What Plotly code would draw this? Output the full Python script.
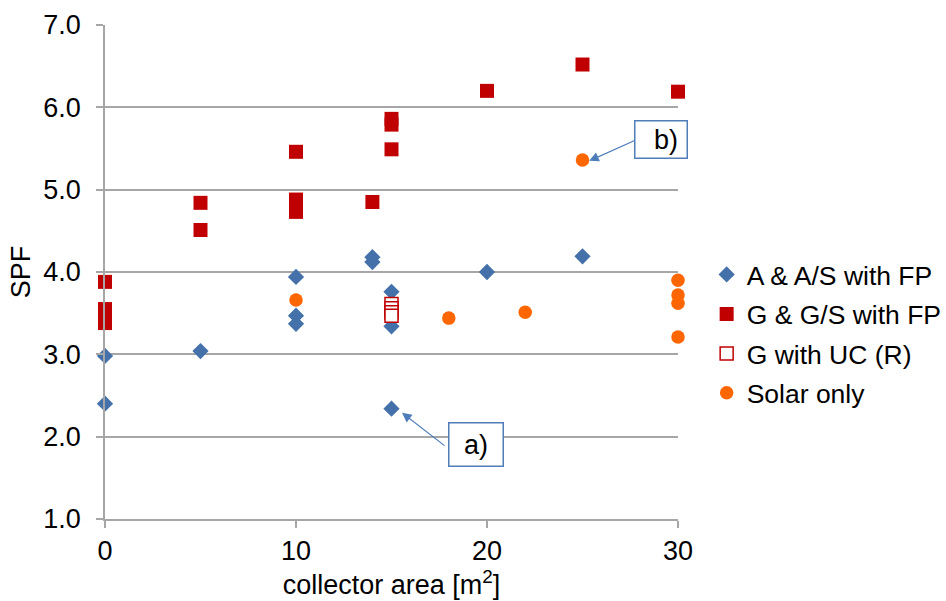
import plotly.graph_objects as go

# ---- data ----
a_x = [0, 0, 5, 10, 10, 10, 14, 14, 15, 15, 15, 20, 25]
a_y = [2.98, 2.40, 3.04, 3.94, 3.47, 3.37, 4.18, 4.12, 3.76, 3.34, 2.34, 4.00, 4.19]

g_x = [0, 0, 0, 0, 5, 5, 10, 10, 10, 10, 14, 15, 15, 15, 20, 25, 30]
g_y = [3.88, 3.55, 3.45, 3.38, 4.84, 4.51, 5.46, 4.88, 4.80, 4.73, 4.85, 5.86, 5.79, 5.49, 6.20, 6.52, 6.19]

uc_x = [15, 15, 15, 15]
uc_y = [3.61, 3.56, 3.51, 3.47]

s_x = [10, 18, 22, 25, 30, 30, 30, 30]
s_y = [3.66, 3.44, 3.51, 5.36, 3.90, 3.72, 3.62, 3.21]

series_names = ["A & A/S with FP", "G & G/S with FP", "G with UC (R)", "Solar only"]
y_ticks = [1, 2, 3, 4, 5, 6, 7]
x_ticks = [0, 10, 20, 30]

FONT = "Liberation Sans, Arial, sans-serif"
FS = 27
BLUE = "#4471A9"
RED = "#C00000"
ORANGE = "#FF6600"
CALLOUT = "#4F7DBA"

fig = go.Figure()
fig.add_trace(go.Scatter(x=a_x, y=a_y, mode="markers", name=series_names[0],
                         marker=dict(symbol="diamond", size=12.5, color=BLUE, line=dict(width=0)),
                         cliponaxis=False))
fig.add_trace(go.Scatter(x=g_x, y=g_y, mode="markers", name=series_names[1],
                         marker=dict(symbol="square", size=14, color=RED, line=dict(width=0)),
                         cliponaxis=False))
fig.add_trace(go.Scatter(x=uc_x, y=uc_y, mode="markers", name=series_names[2],
                         marker=dict(symbol="square", size=13, color="white", line=dict(width=1.5, color=RED)),
                         cliponaxis=False))
fig.add_trace(go.Scatter(x=s_x, y=s_y, mode="markers", name=series_names[3],
                         marker=dict(symbol="circle", size=13.5, color=ORANGE, line=dict(width=0)),
                         cliponaxis=False))

# callout a)
fig.add_annotation(x=15.55, y=2.29, xref="x", yref="y", text="", showarrow=True,
                   ax=44, ay=34, arrowhead=2, arrowsize=1.6, arrowwidth=1.2, arrowcolor=CALLOUT,
                   standoff=0)
fig.add_annotation(x=19.40, y=1.90, xref="x", yref="y", text="a)", showarrow=False,
                   width=51, height=40, bordercolor=CALLOUT, borderwidth=1.5, bgcolor="white",
                   font=dict(size=FS, color="black", family=FONT))
# callout b)
fig.add_annotation(x=25.35, y=5.35, xref="x", yref="y", text="", showarrow=True,
                   ax=47, ay=-21, arrowhead=2, arrowsize=1.6, arrowwidth=1.2, arrowcolor=CALLOUT,
                   standoff=0)
fig.add_annotation(x=29.13, y=5.615, xref="x", yref="y", text="b)&nbsp;", showarrow=False,
                   width=49, height=34, bordercolor=CALLOUT, borderwidth=1.5, bgcolor="white",
                   align="right", font=dict(size=FS, color="black", family=FONT))

fig.update_layout(
    width=946, height=601,
    margin=dict(l=105, r=268, t=25, b=82, autoexpand=False),
    paper_bgcolor="white", plot_bgcolor="white",
    font=dict(family=FONT, size=FS, color="black"),
    showlegend=True,
    legend=dict(x=1.05, xanchor="left", y=0.375, yanchor="middle",
                font=dict(size=26.5, family=FONT, color="black"),
                bgcolor="rgba(0,0,0,0)", tracegroupgap=2, traceorder="grouped"),
)
for i, tr in enumerate(fig.data):
    tr.legendgroup = "g%d" % i

fig.update_xaxes(range=[0, 30], tickvals=x_ticks, ticktext=[str(v) for v in x_ticks],
                 showgrid=False, zeroline=False, showline=True, linecolor="#A6A6A6", linewidth=1.5,
                 ticks="outside", ticklen=7, tickcolor="#A6A6A6", tickwidth=1.5,
                 tickfont=dict(size=FS), ticklabelstandoff=0, automargin=False,
                 title=dict(text="collector area [m<sup>2</sup>]", font=dict(size=FS), standoff=2))
fig.update_yaxes(range=[1, 7], tickvals=y_ticks, ticktext=["%.1f" % v for v in y_ticks],
                 showgrid=True, gridcolor="#A6A6A6", gridwidth=1.5, zeroline=False,
                 showline=True, linecolor="#A6A6A6", linewidth=1.5,
                 ticks="outside", ticklen=7, tickcolor="#A6A6A6", tickwidth=1.5,
                 tickfont=dict(size=FS), ticklabelstandoff=10, automargin=False,
                 title=dict(text="SPF", font=dict(size=FS), standoff=5))

fig.write_html("out.html", config={"displayModeBar": False},
               post_script="document.body.style.margin='0px';")
